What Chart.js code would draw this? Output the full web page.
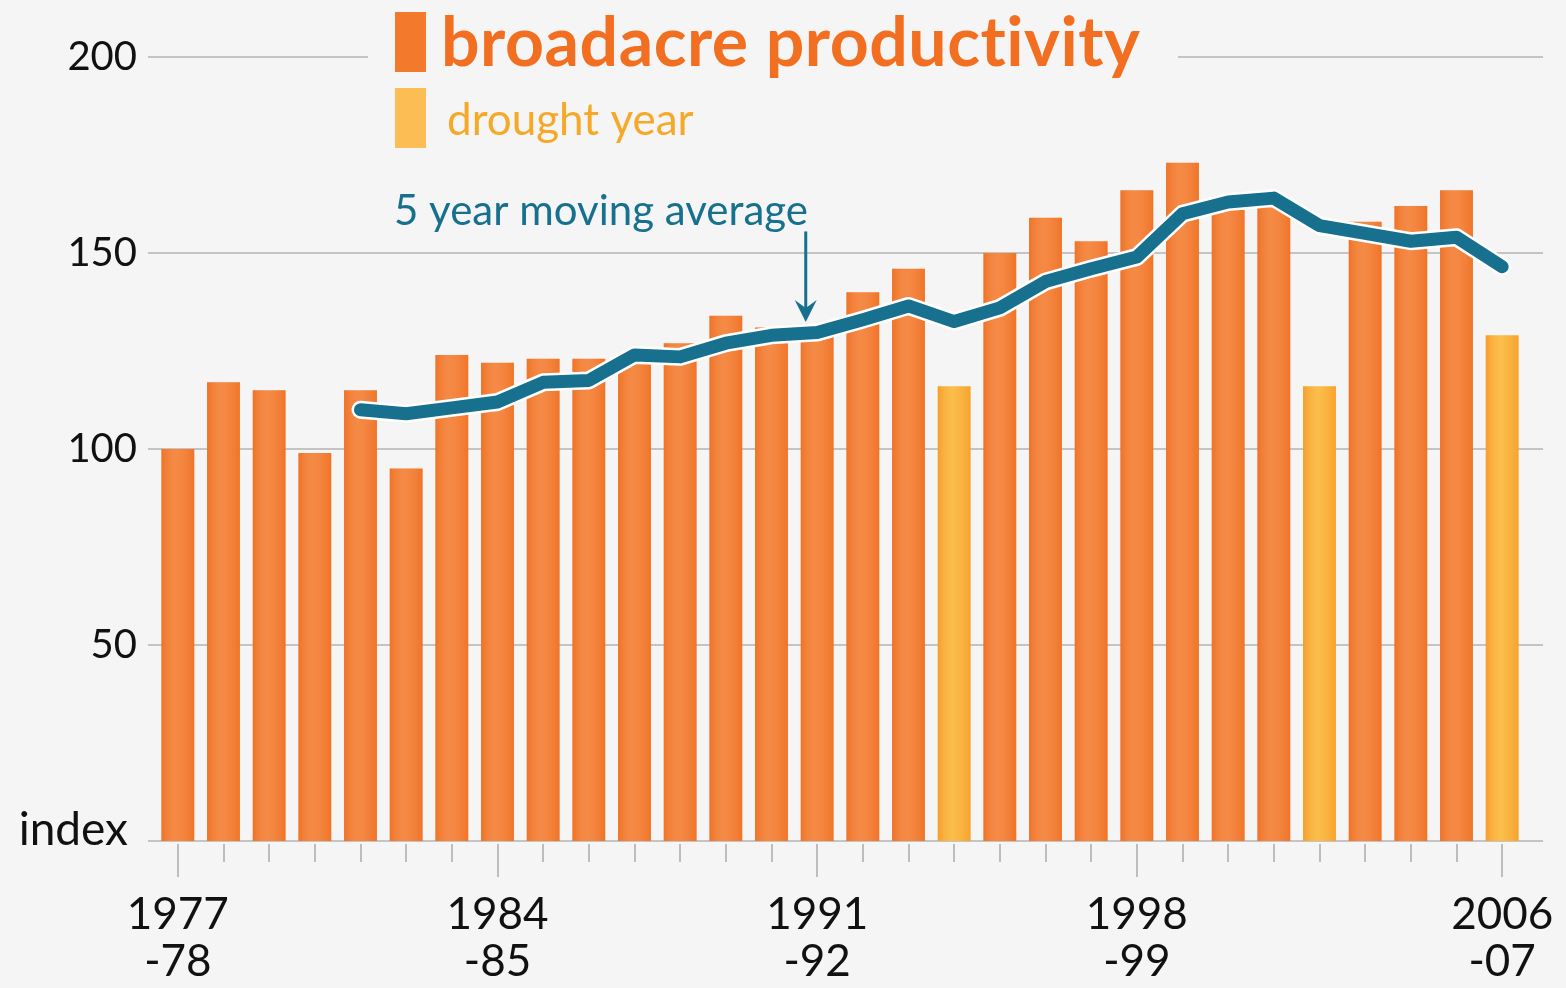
<!DOCTYPE html>
<html>
<head>
<meta charset="utf-8">
<title>broadacre productivity</title>
<script src="https://cdn.jsdelivr.net/npm/chart.js@4"></script>
<style>
html, body { margin: 0; padding: 0; background: #f5f5f5; }
#wrap { width: 1566px; height: 988px; position: relative; }
</style>
</head>
<body>
<div id="wrap"><canvas id="chart"></canvas></div>
<script>
// financial years, one bar each
var years = ['1977-78', '1978-79', '1979-80', '1980-81', '1981-82', '1982-83', '1983-84', '1984-85',
	'1985-86', '1986-87', '1987-88', '1988-89', '1989-90', '1990-91', '1991-92', '1992-93', '1993-94',
	'1994-95', '1995-96', '1996-97', '1997-98', '1998-99', '1999-00', '2000-01', '2001-02', '2002-03',
	'2003-04', '2004-05', '2005-06', '2006-07'];

// productivity index
var productivity = [100, 117, 115, 99, 115, 95, 124, 122, 123, 123, 124, 127, 134, 131, 129, 140, 146,
	116, 150, 159, 153, 166, 173, 161, 162, 116, 158, 162, 166, 129];

// 1 = drought year
var drought = [0, 0, 0, 0, 0, 0, 0, 0, 0, 0, 0, 0, 0, 0, 0, 0, 0,
	1, 0, 0, 0, 0, 0, 0, 0, 1, 0, 0, 0, 1];

// 5 year moving average (starts in 1981-82)
var movingAvg = [null, null, null, null, 110, 109, 110.5, 112, 117, 117.5, 124, 123.5, 127, 129, 129.7,
	133, 136.5, 132.5, 136, 142.7, 146, 149, 160, 163, 164, 157, 155, 153, 154, 146.5];

// which years get a label on the x axis
var labeledTicks = [0, 7, 14, 21, 29];
var yTicks = [0, 50, 100, 150, 200];

var ORANGE = '#f37a2c';
var YELLOW = '#fbb431';
var TEAL = '#17708e';
var GRID = '#c4c4c4';

var decor = {
	id: 'decor',
	beforeDatasetsDraw: function(chart) {
		var ctx = chart.ctx, ys = chart.scales.y, xs = chart.scales.x, area = chart.chartArea;
		ctx.save();
		ctx.strokeStyle = GRID;
		ctx.lineWidth = 2;
		yTicks.forEach(function(v) {
			var py = Math.round(ys.getPixelForValue(v));
			ctx.beginPath();
			if (v == 200) {
				// gap for the title
				ctx.moveTo(area.left - 7, py); ctx.lineTo(368, py);
				ctx.moveTo(1178, py); ctx.lineTo(area.right + 18, py);
			} else {
				ctx.moveTo(area.left - 7, py); ctx.lineTo(area.right + 18, py);
			}
			ctx.stroke();
		});
		// tick marks under the baseline
		ctx.strokeStyle = '#bdbdbd';
		for (var i = 0; i < years.length; i++) {
			var px = Math.round(xs.getPixelForValue(i));
			ctx.beginPath();
			ctx.moveTo(px, area.bottom + 3);
			ctx.lineTo(px, area.bottom + (labeledTicks.indexOf(i) >= 0 ? 36 : 21));
			ctx.stroke();
		}
		ctx.restore();
	},
	afterDatasetDraw: function(chart, args) {
		if (args.index !== 0) return;
		// soft highlight down the middle of each bar
		var ctx = chart.ctx;
		ctx.save();
		args.meta.data.forEach(function(bar) {
			var l = bar.x - bar.width / 2, r = bar.x + bar.width / 2;
			var g = ctx.createLinearGradient(l, 0, r, 0);
			g.addColorStop(0, 'rgba(230,90,20,0.25)');
			g.addColorStop(0.45, 'rgba(255,255,255,0.12)');
			g.addColorStop(1, 'rgba(230,90,20,0.2)');
			ctx.fillStyle = g;
			ctx.fillRect(l, bar.y, bar.width, bar.base - bar.y);
		});
		ctx.restore();
	},
	afterDraw: function(chart) {
		var ctx = chart.ctx, ys = chart.scales.y, xs = chart.scales.x;
		ctx.save();
		// legend / title
		ctx.fillStyle = ORANGE;
		ctx.fillRect(395, 12, 31, 60);
		ctx.fillStyle = '#fdbd55';
		ctx.fillRect(395, 88, 31, 60);
		ctx.textBaseline = 'alphabetic';
		ctx.textAlign = 'left';
		ctx.fillStyle = '#f26f21';
		ctx.font = 'bold 68px Lato';
		ctx.letterSpacing = '0.5px';
		ctx.fillText('broadacre productivity', 441, 66);
		ctx.letterSpacing = '0px';
		ctx.fillStyle = '#f6a929';
		ctx.font = '44px Lato';
		ctx.fillText('drought year', 447, 135);
		// moving average note + arrow
		ctx.fillStyle = TEAL;
		ctx.font = '42px Lato';
		ctx.fillText('5 year moving average', 394, 225);
		var ax = xs.getPixelForValue(13.75);
		var y0 = ys.getPixelForValue(155.5), y1 = ys.getPixelForValue(132.4);
		ctx.strokeStyle = TEAL;
		ctx.lineWidth = 3;
		ctx.beginPath();
		ctx.moveTo(ax, y0); ctx.lineTo(ax, y1 - 12);
		ctx.stroke();
		ctx.beginPath();
		ctx.moveTo(ax - 11, y1 - 22); ctx.lineTo(ax, y1 - 14); ctx.lineTo(ax + 11, y1 - 22); ctx.lineTo(ax, y1);
		ctx.closePath();
		ctx.fill();
		// axis unit sits where the 0 label would be
		ctx.fillStyle = '#111';
		ctx.font = '46px Lato';
		ctx.textAlign = 'right';
		ctx.fillText('index', 128, ys.getPixelForValue(0) + 4);
		ctx.restore();
	}
};

var chart = new Chart(document.getElementById('chart'), {
	type: 'bar',
	data: {
		labels: years,
		datasets: [{
			label: 'broadacre productivity',
			data: productivity,
			backgroundColor: drought.map(function(d) { return d ? YELLOW : ORANGE; }),
			barPercentage: 0.72,
			categoryPercentage: 1,
			order: 3
		}, {
			type: 'line',
			label: 'outline',
			data: movingAvg,
			borderColor: '#ffffff',
			borderWidth: 18,
			pointRadius: 0,
			borderCapStyle: 'round',
			borderJoinStyle: 'round',
			order: 2
		}, {
			type: 'line',
			label: '5 year moving average',
			data: movingAvg,
			borderColor: TEAL,
			borderWidth: 13,
			pointRadius: 0,
			borderCapStyle: 'round',
			borderJoinStyle: 'round',
			order: 1
		}]
	},
	options: {
		responsive: true,
		maintainAspectRatio: false,
		animation: false,
		layout: { padding: { top: 57, right: 41, left: 0, bottom: 0 } },
		plugins: { legend: { display: false }, tooltip: { enabled: false } },
		scales: {
			x: {
				offset: true,
				grid: { display: false, drawTicks: false },
				border: { display: false },
				ticks: {
					autoSkip: false,
					maxRotation: 0,
					padding: 50,
					color: '#111',
					font: { family: 'Lato', size: 44, lineHeight: 1.07 },
					callback: function(v, i) {
						return labeledTicks.indexOf(i) >= 0 ? years[i].split(/(?=-)/) : '';
					}
				},
				afterFit: function(s) { s.height = 147; s.paddingLeft = 0; s.paddingRight = 0; }
			},
			y: {
				min: 0,
				max: 200,
				grid: { display: false, drawTicks: false },
				border: { display: false },
				ticks: {
					stepSize: 50,
					padding: 18,
					color: '#111',
					font: { family: 'Lato', size: 40 },
					callback: function(v) { return v === 0 ? '' : v; }
				},
				afterFit: function(s) { s.width = 155; s.paddingTop = 0; s.paddingBottom = 0; }
			}
		}
	},
	plugins: [decor]
});
</script>
</body>
</html>
